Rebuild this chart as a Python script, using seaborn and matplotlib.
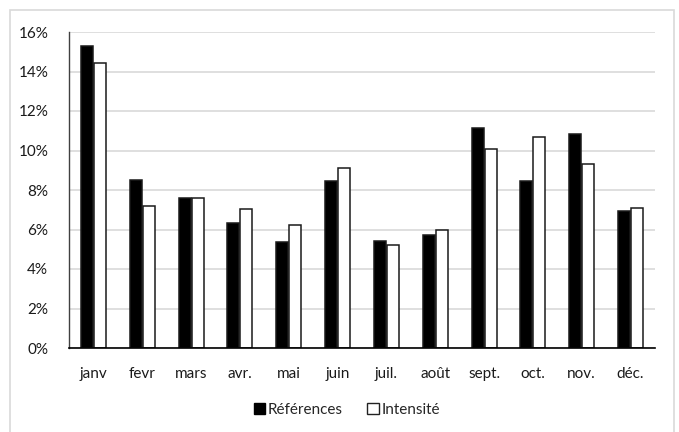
import matplotlib
matplotlib.use("Agg")
import matplotlib.pyplot as plt
import seaborn as sns
import pandas as pd
from matplotlib.patches import Patch, Rectangle
from matplotlib.ticker import FuncFormatter

months = ["janv", "fevr", "mars", "avr.", "mai", "juin", "juil.", "août", "sept.", "oct.", "nov.", "déc."]
references = [15.3, 8.52, 7.58, 6.31, 5.35, 8.47, 5.40, 5.74, 11.15, 8.46, 10.85, 6.95]
intensite = [14.45, 7.19, 7.61, 7.06, 6.23, 9.10, 5.20, 5.99, 10.08, 10.70, 9.30, 7.07]
series_names = ["Références", "Intensité"]
y_ticks = [0, 2, 4, 6, 8, 10, 12, 14, 16]

df = pd.DataFrame({
    "mois": months * 2,
    "serie": [series_names[0]] * len(months) + [series_names[1]] * len(months),
    "valeur": references + intensite,
})

sns.set_theme(style="white")
plt.rcParams["font.family"] = ["Lato", "DejaVu Sans"]

fig = plt.figure(figsize=(6.79, 4.32), dpi=100)
ax = fig.add_axes([69/679, 1-348/432, (655-69)/679, (348-32)/432])

palette = {series_names[0]: "black", series_names[1]: "white"}
sns.barplot(data=df, x="mois", y="valeur", hue="serie", order=months,
            hue_order=series_names, palette=palette, width=0.53, gap=0.08,
            edgecolor="#1a1a1a", linewidth=1.1, ax=ax, legend=False)

ax.set_ylim(0, 16)
ax.set_yticks(y_ticks)
ax.yaxis.set_major_formatter(FuncFormatter(lambda v, p: f"{int(v)}%"))
ax.set_xlim(-0.5, len(months) - 0.5)
ax.grid(axis="y", color="#d9d9d9", linewidth=1.2)
ax.set_axisbelow(True)
ax.set_xlabel("")
ax.set_ylabel("")
for s in ["top", "right"]:
    ax.spines[s].set_visible(False)
ax.spines["left"].set_color("#404040")
ax.spines["left"].set_linewidth(1.0)
ax.spines["bottom"].set_color("black")
ax.spines["bottom"].set_linewidth(1.2)
ax.tick_params(axis="y", length=0, pad=15, labelsize=11, labelcolor="#1a1a1a")
ax.tick_params(axis="x", length=0, pad=14, labelsize=11, labelcolor="#1a1a1a")

handles = [Patch(facecolor="black", edgecolor="black", label=series_names[0]),
           Patch(facecolor="white", edgecolor="#222222", linewidth=1.0, label=series_names[1])]
fig.legend(handles=handles, loc="center", bbox_to_anchor=(347/679, 1-410/432), ncol=2,
           frameon=False, handlelength=0.75, handleheight=0.75, handletextpad=0.2,
           columnspacing=1.6, fontsize=11)

fig.patches.append(Rectangle((10/679, -0.02), (674-10)/679, 1.02-10/432,
                             transform=fig.transFigure, fill=False,
                             edgecolor="#d9d9d9", linewidth=1.2))

fig.savefig("out.png", dpi=100, facecolor="white")
